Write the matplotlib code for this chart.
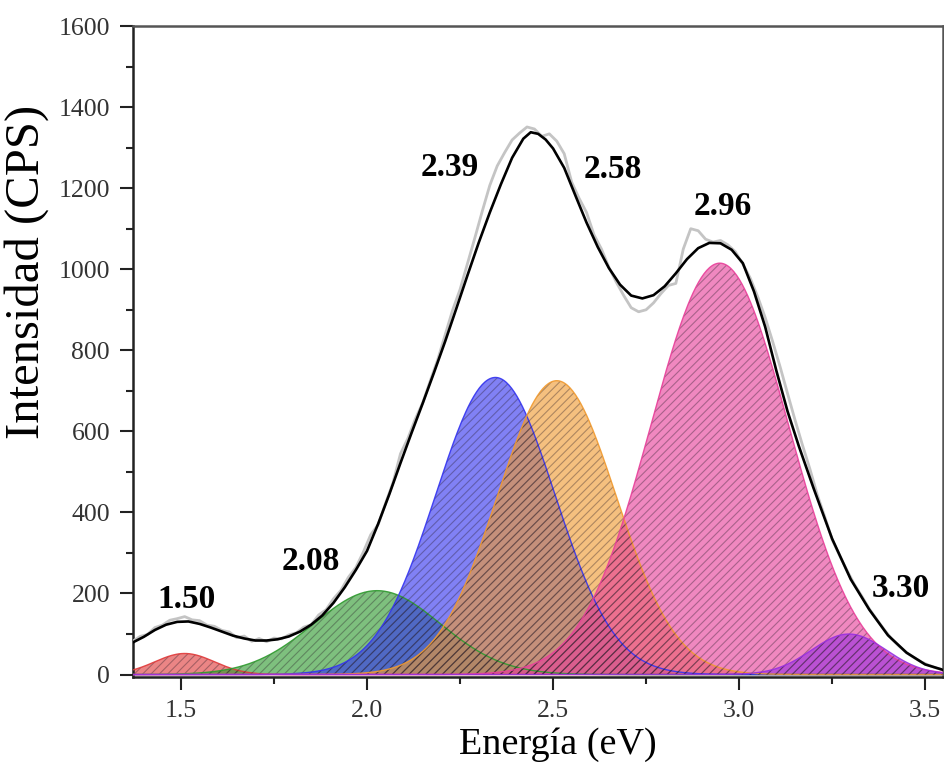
import numpy as np
import matplotlib
matplotlib.use("Agg")
import matplotlib.pyplot as plt

# ---------------- data ----------------
# smoothed fit curve (black)
fit_x = [1.37, 1.40, 1.43, 1.46, 1.49, 1.52, 1.55, 1.58, 1.61, 1.64, 1.67, 1.70,
         1.73, 1.76, 1.79, 1.82, 1.85, 1.88, 1.91, 1.94, 1.97, 2.00, 2.03, 2.06,
         2.09, 2.12, 2.15, 2.18, 2.21, 2.24, 2.27, 2.30, 2.33, 2.36, 2.39, 2.42,
         2.44, 2.46, 2.48, 2.50, 2.53, 2.56, 2.59, 2.62, 2.65, 2.68, 2.71, 2.74,
         2.77, 2.80, 2.83, 2.86, 2.89, 2.92, 2.95, 2.98, 3.01, 3.04, 3.07, 3.10,
         3.13, 3.16, 3.20, 3.25, 3.30, 3.35, 3.40, 3.45, 3.50, 3.55]
fit_y = [79, 93, 110, 123, 130, 131, 125, 116, 106, 96, 89, 84,
         84, 87, 94, 106, 123, 146, 177, 215, 258, 305, 372, 445,
         522, 597, 670, 745, 822, 903, 985, 1065, 1140, 1210, 1275, 1322,
         1338, 1334, 1320, 1298, 1250, 1182, 1115, 1055, 1003, 962, 935, 928,
         936, 958, 990, 1025, 1052, 1065, 1064, 1048, 1015, 945, 858, 750,
         650, 565, 460, 335, 235, 160, 97, 54, 25, 11]

# raw measured spectrum (gray), sampled every 0.02 eV from 1.37 eV
raw_start = 1.37
raw_step = 0.02
raw_y = [82, 94, 99, 116, 122, 134, 138, 143, 135, 133, 122, 119, 109, 105, 91,
         95, 82, 89, 81, 90, 88, 98, 103, 117, 123, 147, 160, 187, 208, 240,
         264, 302, 345, 370, 423, 474, 545, 583, 631, 671, 725, 777, 838, 899,
         950, 1014, 1078, 1144, 1207, 1255, 1288, 1319, 1336, 1351, 1346, 1328,
         1334, 1316, 1285, 1215, 1175, 1140, 1085, 1050, 1005, 968, 935, 905,
         895, 900, 917, 940, 960, 965, 1050, 1100, 1095, 1074, 1067, 1071, 1060,
         1043, 1013, 978, 932, 881, 822, 760, 694, 629, 567, 508, 444, 390, 333,
         294, 257, 222, 193, 162, 136, 111, 88, 70, 54, 42, 31, 23, 16, 11]

# Gaussian components: centre (eV), height (CPS), width sigma (eV)
comp_center = [1.51, 2.027, 2.345, 2.51, 2.948, 3.295]
comp_height = [52, 207, 733, 725, 1015, 100]
comp_sigma = [0.08, 0.17, 0.16, 0.16, 0.185, 0.10]
comp_colors = ["#e03a3a", "#2f9a2f", "#3434f0", "#f09a30", "#e8409a", "#9a30e0"]

# peak labels
label_text = ["1.50", "2.08", "2.39", "2.58", "2.96", "3.30"]
label_x = [1.516, 1.85, 2.223, 2.661, 2.957, 3.435]
label_y = [184, 278, 1250, 1245, 1154, 213]

# ---------------- plot ----------------
plt.rcParams["font.family"] = ["Liberation Serif", "DejaVu Serif"]
plt.rcParams["hatch.linewidth"] = 0.8

fig = plt.figure(figsize=(9.45, 7.66), dpi=100)
ax = fig.add_axes([0.1407, 0.1162, 0.8572, 0.8498])

xs = np.linspace(1.37, 3.55, 600)
for c, h, s, col in zip(comp_center, comp_height, comp_sigma, comp_colors):
    g = h * np.exp(-(xs - c) ** 2 / (2 * s ** 2))
    ax.fill_between(xs, 0, g, facecolor=col, alpha=0.62, edgecolor="none", zorder=2)
    ax.fill_between(xs, 0, g, facecolor="none", edgecolor=(0.15, 0.1, 0.15, 0.35),
                    hatch="////", linewidth=0, zorder=3)
    ax.plot(xs, g, color=col, lw=1.0, alpha=0.9, zorder=3)

raw_x = raw_start + raw_step * np.arange(len(raw_y))
ax.plot(raw_x, raw_y, color="#c4c4c4", lw=2.0, zorder=4)
ax.plot(fit_x, fit_y, color="black", lw=1.9, zorder=5, solid_joinstyle="round")

for t, x, y in zip(label_text, label_x, label_y):
    ax.text(x, y, t, ha="center", va="center", fontsize=24, fontweight="bold", zorder=6)

ax.set_xlim(1.371, 3.548)
ax.set_ylim(-6, 1600)
ax.set_xticks([1.5, 2.0, 2.5, 3.0, 3.5])
ax.set_xticks([1.75, 2.25, 2.75, 3.25], minor=True)
ax.set_yticks(range(0, 1601, 200))
ax.set_yticks(range(100, 1600, 200), minor=True)

ax.tick_params(which="major", direction="out", length=9.5, width=1.5, labelsize=18.5,
               labelcolor="#333333", pad=7, color="#222222")
ax.tick_params(which="minor", direction="out", length=5, width=1.5, color="#222222")
for side in ["left", "bottom"]:
    ax.spines[side].set_linewidth(1.8)
    ax.spines[side].set_color("#222222")
for side in ["top", "right"]:
    ax.spines[side].set_linewidth(1.8)
    ax.spines[side].set_color("#555555")

ax.set_xlabel("Energía (eV)", fontsize=27.5)
ax.xaxis.set_label_coords(0.525, -0.078)
ax.xaxis.label.set_va("top")
ax.set_ylabel("Intensidad (CPS)", fontsize=35)
ax.yaxis.set_label_coords(-0.104, 0.622)

fig.savefig("out.png", dpi=100)
